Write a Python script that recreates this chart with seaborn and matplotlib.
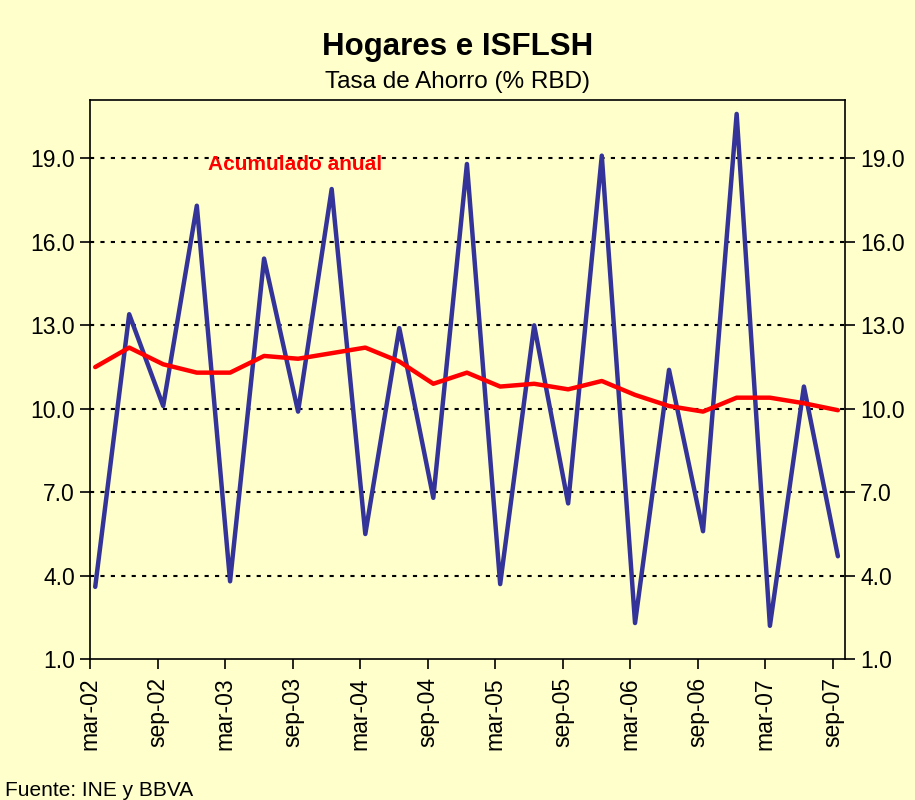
import numpy as np
import pandas as pd
import matplotlib
matplotlib.use("Agg")
import matplotlib.pyplot as plt
import seaborn as sns

# quarterly observations (mar-02 .. sep-07)
quarters = ["2002-03", "2002-06", "2002-09", "2002-12",
            "2003-03", "2003-06", "2003-09", "2003-12",
            "2004-03", "2004-06", "2004-09", "2004-12",
            "2005-03", "2005-06", "2005-09", "2005-12",
            "2006-03", "2006-06", "2006-09", "2006-12",
            "2007-03", "2007-06", "2007-09"]

tasa_trimestral = [3.6, 13.4, 10.1, 17.3,
                   3.8, 15.4, 9.9, 17.9,
                   5.5, 12.9, 6.8, 18.8,
                   3.7, 13.0, 6.6, 19.1,
                   2.3, 11.4, 5.6, 20.6,
                   2.2, 10.8, 4.7]

acumulado_anual = [11.5, 12.2, 11.6, 11.3,
                   11.3, 11.9, 11.8, 12.0,
                   12.2, 11.7, 10.9, 11.3,
                   10.8, 10.9, 10.7, 11.0,
                   10.5, 10.1, 9.9, 10.4,
                   10.4, 10.2, 9.95]

tick_dates = ["2002-03", "2002-09", "2003-03", "2003-09", "2004-03", "2004-09",
              "2005-03", "2005-09", "2006-03", "2006-09", "2007-03", "2007-09"]
tick_labels = ["mar-02", "sep-02", "mar-03", "sep-03", "mar-04", "sep-04",
               "mar-05", "sep-05", "mar-06", "sep-06", "mar-07", "sep-07"]
y_ticks = [1.0, 4.0, 7.0, 10.0, 13.0, 16.0, 19.0]

df = pd.DataFrame({
    "fecha": pd.to_datetime(quarters) + pd.Timedelta(days=14),
    "trimestral": tasa_trimestral,
    "anual": acumulado_anual,
})

sns.set_style("ticks")
plt.rcParams["font.family"] = ["Liberation Sans", "DejaVu Sans"]
plt.rcParams["text.color"] = "black"
plt.rcParams["xtick.color"] = "black"
plt.rcParams["ytick.color"] = "black"

bg = "#FFFFCC"
fig = plt.figure(figsize=(9.15, 8), dpi=100, facecolor=bg)
ax = fig.add_axes([0.0984, 0.176, 0.825, 0.699])
ax.set_facecolor(bg)

# dotted gridlines
for v in y_ticks[1:]:
    ax.axhline(v, color="black", lw=1.5, ls=(0, (2, 3)), zorder=1)

sns.lineplot(data=df, x="fecha", y="trimestral", ax=ax, color="#333399",
             lw=3.2, zorder=3, solid_joinstyle="round")
sns.lineplot(data=df, x="fecha", y="anual", ax=ax, color="#FF0000",
             lw=3.2, zorder=4, solid_joinstyle="round")

ax.set_xlim(pd.Timestamp("2002-03-01"), pd.Timestamp("2007-10-04"))
ax.set_ylim(1.0, 21.1)
ax.set_xlabel("")
ax.set_ylabel("")

ax.set_xticks(pd.to_datetime(tick_dates))
ax.set_xticklabels(tick_labels, rotation=90, fontsize=16.5)
ax.set_yticks(y_ticks)
ax.set_yticklabels([f"{v:.1f}" for v in y_ticks], fontsize=16.5)
ax.tick_params(axis="y", which="both", direction="out", length=7, width=1.2,
               left=True, right=True, labelleft=True, labelright=True, pad=4)
ax.tick_params(axis="x", direction="out", length=7, width=1.2, pad=6)

for s in ax.spines.values():
    s.set_color("black")
    s.set_linewidth(1.2)
    s.set_visible(True)

ax.text(0.156, 0.884, "Acumulado anual", transform=ax.transAxes, color="#FF0000",
        fontsize=15, fontweight="bold", va="center", ha="left", zorder=5)

fig.text(0.5, 0.941, "Hogares e ISFLSH", ha="center", va="center",
         fontsize=22.5, fontweight="bold")
fig.text(0.5, 0.898, "Tasa de Ahorro (% RBD)", ha="center", va="center",
         fontsize=17.5)
fig.text(0.006, 0.012, "Fuente: INE y BBVA", ha="left", va="center", fontsize=15)

fig.savefig("out.png", dpi=100, facecolor=bg)
